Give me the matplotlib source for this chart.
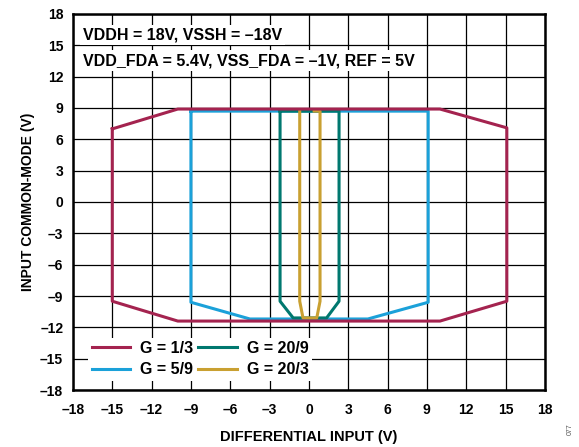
import matplotlib
matplotlib.use("Agg")
import matplotlib.pyplot as plt
from matplotlib.ticker import FuncFormatter

plt.rcParams['font.family'] = ['Liberation Sans', 'DejaVu Sans']
plt.rcParams['font.weight'] = 'bold'

# envelope corners (differential input, common mode), closed polygons
g13_x = [-15, -10, 10, 15.1, 15.1, 10, -10, -15, -15]
g13_y = [7.0, 8.9, 8.9, 7.1, -9.5, -11.4, -11.4, -9.5, 7.0]
g59_x = [-9, -9, -4.5, 4.5, 9.1, 9.1, -9]
g59_y = [8.7, -9.6, -11.2, -11.2, -9.6, 8.7, 8.7]
g209_x = [-2.2, -2.2, -1.2, 1.35, 2.3, 2.3, -2.2]
g209_y = [8.7, -9.5, -11.1, -11.1, -9.5, 8.7, 8.7]
g203_x = [-0.7, -0.7, -0.45, 0.6, 0.85, 0.85, 0.4]
g203_y = [8.7, -9.5, -11.1, -11.1, -9.5, 8.7, 8.7]

labels = ['G = 1/3', 'G = 5/9', 'G = 20/9', 'G = 20/3']
colors = ['#A4234F', '#1BA1D9', '#00786F', '#C9A031']
ticks = list(range(-18, 19, 3))

fig = plt.figure(figsize=(5.79, 4.47), dpi=100)
ax = fig.add_axes([0.126, 0.1275, 0.815, 0.8412])

ax.plot(g59_x, g59_y, color=colors[1], lw=2.2, label=labels[1])
ax.plot(g209_x, g209_y, color=colors[2], lw=2.2, label=labels[2])
ax.plot(g203_x, g203_y, color=colors[3], lw=2.2, label=labels[3])
ax.plot(g13_x, g13_y, color=colors[0], lw=2.2, label=labels[0])

ax.set_xlim(-18, 18)
ax.set_ylim(-18, 18)
ax.set_xticks(ticks)
ax.set_yticks(ticks)
fmt = FuncFormatter(lambda v, p: ('%d' % v).replace('-', '\u2013'))
ax.xaxis.set_major_formatter(fmt)
ax.yaxis.set_major_formatter(fmt)
ax.tick_params(labelsize=10, length=0)
ax.tick_params(axis='x', pad=9)
ax.tick_params(axis='y', pad=7)
ax.grid(True, color='black', lw=0.9)
ax.set_axisbelow(True)
for s in ax.spines.values():
    s.set_linewidth(1.8)

ax.set_xlabel('DIFFERENTIAL INPUT (V)', fontsize=10.5, fontweight='bold', labelpad=10)
ax.set_ylabel('INPUT COMMON-MODE (V)', fontsize=10, fontweight='bold', labelpad=4)

bb = dict(facecolor='white', edgecolor='none', pad=2)
ax.text(0.021, 0.944, 'VDDH = 18V, VSSH = \u201318V', transform=ax.transAxes,
        fontsize=11.5, va='center', ha='left', bbox=bb, zorder=5)
ax.text(0.021, 0.876, 'VDD_FDA = 5.4V, VSS_FDA = \u20131V, REF = 5V', transform=ax.transAxes,
        fontsize=11.5, va='center', ha='left', bbox=bb, zorder=5)

h, l = ax.get_legend_handles_labels()
order = [3, 0, 1, 2]
leg = ax.legend([h[i] for i in order], [l[i] for i in order], ncol=2, loc='lower left',
                bbox_to_anchor=(0.016, 0.004), frameon=True, fontsize=11.5,
                handlelength=2.4, columnspacing=0.3, handletextpad=0.65,
                labelspacing=0.4, borderpad=0.2)
leg.get_frame().set_edgecolor('none')
leg.get_frame().set_alpha(1)
leg.get_frame().set_boxstyle('square', pad=0)
leg.set_zorder(5)

fig.text(0.985, 0.04, '077', rotation=90, fontsize=5, color='#555555',
         fontweight='normal', ha='center', va='center')

fig.savefig('out.png', dpi=100)
